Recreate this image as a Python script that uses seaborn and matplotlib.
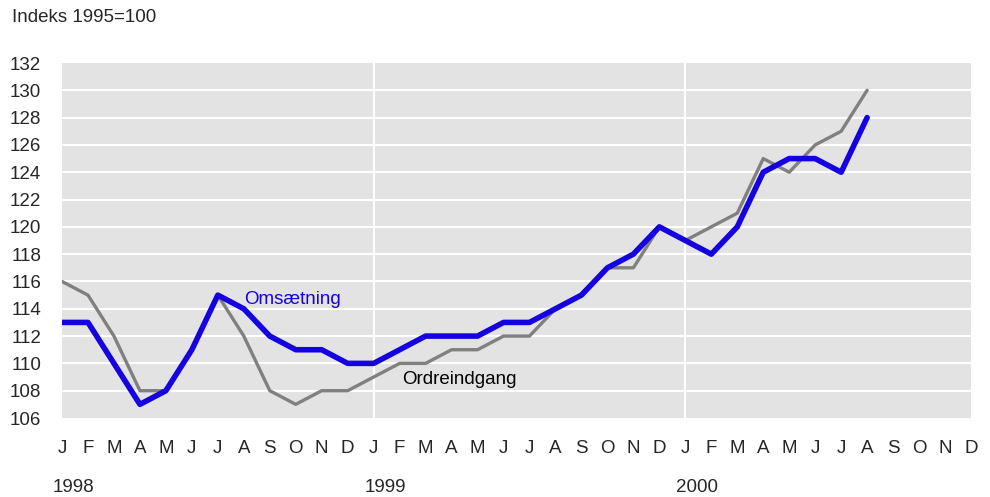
import matplotlib
matplotlib.use("Agg")
import matplotlib.pyplot as plt
import matplotlib.transforms as mtransforms
import seaborn as sns
import pandas as pd

# Data
months = ["J", "F", "M", "A", "M", "J", "J", "A", "S", "O", "N", "D"] * 3
years = ["1998", "1999", "2000"]

omsaetning = [113, 113, 110, 107, 108, 111, 115, 114, 112, 111, 111, 110,
              110, 111, 112, 112, 112, 113, 113, 114, 115, 117, 118, 120,
              119, 118, 120, 124, 125, 125, 124, 128]
ordreindgang = [116, 115, 112, 108, 108, 111, 115, 112, 108, 107, 108, 108,
                109, 110, 110, 111, 111, 112, 112, 114, 115, 117, 117, 120,
                119, 120, 121, 125, 124, 126, 127, 130]

sns.set_style("white")
plt.rcParams['font.family'] = ['Liberation Sans', 'DejaVu Sans']

df = pd.DataFrame({
    'maaned': list(range(len(omsaetning))),
    'Omsætning': omsaetning,
    'Ordreindgang': ordreindgang,
})

fig = plt.figure(figsize=(9.9, 4.97), dpi=100)
ax = fig.add_axes([62 / 990, 1 - 418 / 497, (971 - 62) / 990, (418 - 63) / 497])
ax.set_facecolor('#e3e3e3')

sns.lineplot(data=df, x='maaned', y='Ordreindgang', ax=ax, color='#808080', linewidth=2.4)
sns.lineplot(data=df, x='maaned', y='Omsætning', ax=ax, color='#1400e0', linewidth=4.0)

ax.set_xlim(0, 35)
ax.set_ylim(106, 132)
ax.set_yticks(range(106, 133, 2))
ax.set_xticks(range(36))
ax.set_xticklabels(months)

# grid: horizontal white lines, vertical at year change
for v in range(108, 132, 2):
    ax.axhline(v, color='white', linewidth=1.5, zorder=1)
for x in [12, 24]:
    ax.axvline(x, color='white', linewidth=1.5, zorder=1)

for s in ax.spines.values():
    s.set_visible(False)
ax.tick_params(axis='both', length=0, labelsize=13.5)
ax.tick_params(axis='x', pad=16)
ax.tick_params(axis='y', pad=15)
ax.set_xlabel('')
ax.set_ylabel('')

# year labels under months
trans = mtransforms.blended_transform_factory(ax.transData, ax.transAxes)
for i, yr in enumerate(years):
    ax.text(i * 12 - 0.35, -0.195, yr, transform=trans, ha='left', va='center', fontsize=13.5)

ax.text(7.0, 114.7, 'Omsætning', color='#1400e0', fontsize=13.5, ha='left', va='center')
ax.text(13.1, 108.8, 'Ordreindgang', color='black', fontsize=13.5, ha='left', va='center')

fig.text(12 / 990, 1 - 18 / 497, 'Indeks 1995=100', ha='left', va='center', fontsize=13.5)

fig.savefig('out.png', dpi=100)
plt.close(fig)
